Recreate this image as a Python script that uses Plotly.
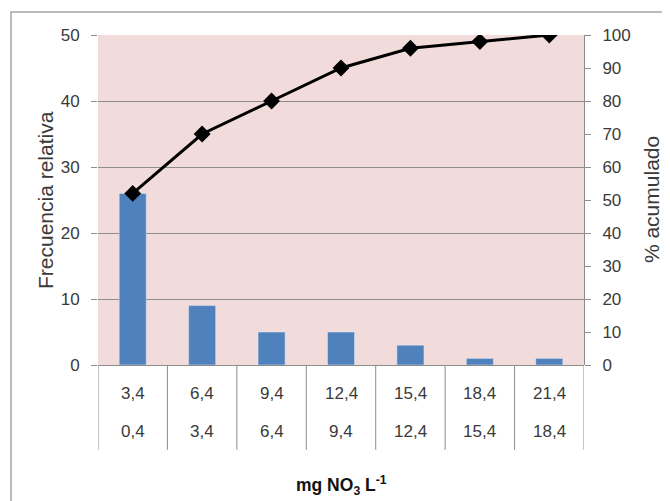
import plotly.graph_objects as go

upper = ["3,4", "6,4", "9,4", "12,4", "15,4", "18,4", "21,4"]
lower = ["0,4", "3,4", "6,4", "9,4", "12,4", "15,4", "18,4"]
freq = [26, 9, 5, 5, 3, 1, 1]
cum_pct = [52, 70, 80, 90, 96, 98, 100]

cats = list(range(len(upper)))
FONT = "Liberation Sans, Arial, sans-serif"
GRID = "#8c8c8c"
TXT = "#3a3a3a"

fig = go.Figure()
fig.add_trace(go.Bar(x=cats, y=freq, marker_color="#4f81bd", width=0.39,
                     showlegend=False))
fig.add_trace(go.Scatter(x=cats, y=cum_pct, yaxis="y2", mode="lines+markers",
                         line=dict(color="black", width=3),
                         marker=dict(symbol="diamond", size=13, color="black"),
                         showlegend=False))

shapes = []
# outer chart border
shapes.append(dict(type="rect", xref="paper", yref="paper",
                   x0=-0.179, x1=1.2, y0=-0.45, y1=1.0697,
                   line=dict(color="#a6a6a6", width=1.5), layer="below"))
# category dividers below axis
for i in range(len(cats) + 1):
    shapes.append(dict(type="line", xref="x", yref="paper",
                       x0=i - 0.5, x1=i - 0.5, y0=0, y1=-0.257,
                       line=dict(color=GRID, width=1)))

annotations = []
for i, (u, l) in enumerate(zip(upper, lower)):
    annotations.append(dict(x=i, y=-0.085, xref="x", yref="paper", text=u,
                            xanchor="center", yanchor="middle",
                            showarrow=False, font=dict(size=17, color=TXT, family=FONT)))
    annotations.append(dict(x=i, y=-0.203, xref="x", yref="paper", text=l,
                            xanchor="center", yanchor="middle",
                            showarrow=False, font=dict(size=17, color=TXT, family=FONT)))
annotations.append(dict(x=0.5, y=-0.365, xref="paper", yref="paper",
                        text="<b>mg NO<sub>3</sub> L<sup>-1</sup></b>",
                        xanchor="center", yanchor="middle",
                        showarrow=False, font=dict(size=17.5, color="#111", family=FONT)))
annotations.append(dict(x=-0.109, y=0.5, xref="paper", yref="paper",
                        text="Frecuencia relativa", textangle=-90,
                        xanchor="center", yanchor="middle",
                        showarrow=False, font=dict(size=21, color=TXT, family=FONT)))
annotations.append(dict(x=1.138, y=0.5, xref="paper", yref="paper",
                        text="% acumulado", textangle=-90,
                        xanchor="center", yanchor="middle",
                        showarrow=False, font=dict(size=21, color=TXT, family=FONT)))

fig.update_layout(
    width=662, height=493,
    margin=dict(l=90, r=86, t=27, b=136),
    paper_bgcolor="white", plot_bgcolor="#f2dcdb",
    font=dict(family=FONT, size=17, color=TXT),
    bargap=0.6,
    xaxis=dict(range=[-0.5, len(cats) - 0.5], showticklabels=False, ticks="",
               showgrid=False, zeroline=False, showline=False, fixedrange=True),
    yaxis=dict(range=[0, 50], dtick=10, showgrid=True, gridcolor=GRID, gridwidth=1,
               zeroline=True, zerolinecolor=GRID, zerolinewidth=1,
               ticks="outside", ticklen=6, tickcolor=GRID, showline=False,
               ticklabelstandoff=8),
    yaxis2=dict(range=[0, 100], dtick=10, overlaying="y", side="right",
                showgrid=False, zeroline=False, showline=True, linecolor=GRID,
                ticks="outside", ticklen=6, tickcolor=GRID, ticklabelstandoff=8),
    shapes=shapes,
    annotations=annotations,
)

fig.write_html("out.html")
